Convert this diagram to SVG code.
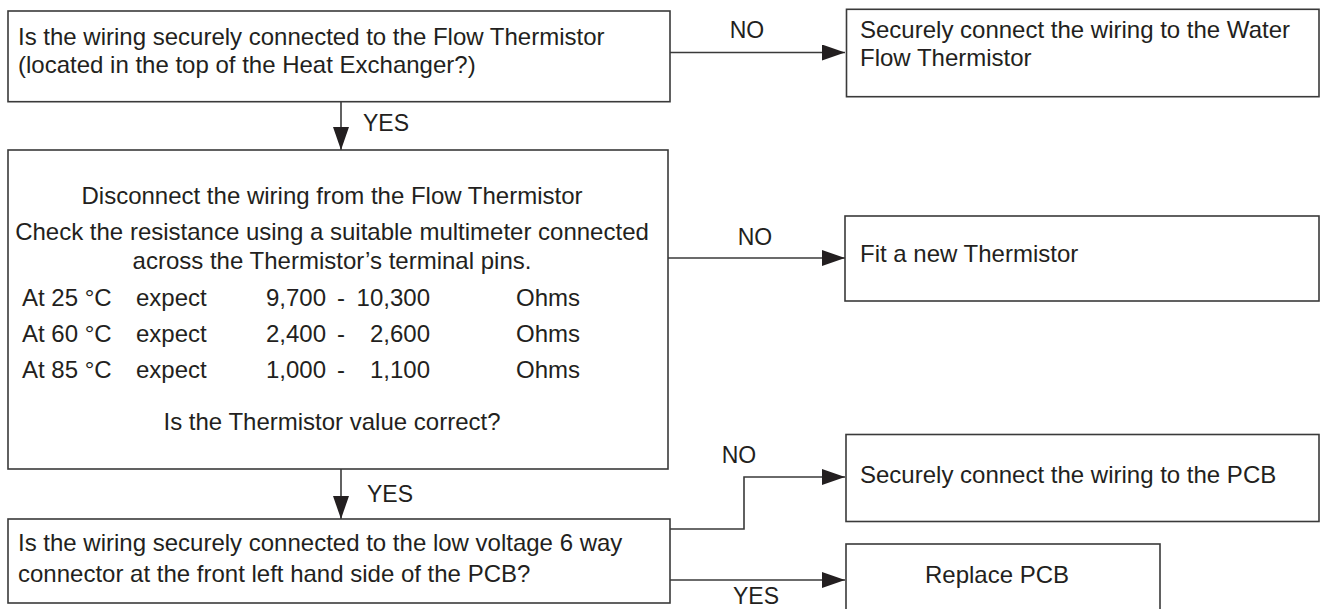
<svg xmlns="http://www.w3.org/2000/svg" width="1320" height="609" viewBox="0 0 1320 609">
<style>
.box{fill:#fff;stroke:#3a3a3a;stroke-width:1.6}
.t{font-family:"Liberation Sans",Arial,sans-serif;font-size:24px;fill:#231f20}
.lbl{font-family:"Liberation Sans",Arial,sans-serif;font-size:23px;fill:#231f20}
.c{fill:none;stroke:#3a3a3a;stroke-width:1.6}
.m{text-anchor:middle}
</style>
<defs>
<marker id="ah" markerUnits="userSpaceOnUse" markerWidth="24" markerHeight="16" refX="23" refY="8" orient="auto">
<path d="M0,0 L23,8 L0,16 Z" fill="#231f20"/>
</marker>
</defs>
<rect width="1320" height="609" fill="#fff"/>
<g id="connectors">
<line class="c" x1="670" y1="52.5" x2="845" y2="52.5" marker-end="url(#ah)"/>
<line class="c" x1="341" y1="101.7" x2="341" y2="150" marker-end="url(#ah)"/>
<line class="c" x1="668" y1="258" x2="845" y2="258" marker-end="url(#ah)"/>
<line class="c" x1="341" y1="469" x2="341" y2="519" marker-end="url(#ah)"/>
<path class="c" d="M670 529 H744 V477 H845" marker-end="url(#ah)"/>
<line class="c" x1="670" y1="580" x2="845" y2="580" marker-end="url(#ah)"/>
<text class="lbl m" x="747" y="38">NO</text>
<text class="lbl" x="363" y="131">YES</text>
<text class="lbl m" x="755" y="245">NO</text>
<text class="lbl" x="367" y="502">YES</text>
<text class="lbl m" x="739" y="463">NO</text>
<text class="lbl m" x="756" y="604">YES</text>
</g>
<g id="q1">
<rect class="box" x="8" y="11" width="662" height="90.7"/>
<text class="t" x="18" y="45">Is the wiring securely connected to the Flow Thermistor</text>
<text class="t" x="18" y="73">(located in the top of the Heat Exchanger?)</text>
</g>
<g id="a1">
<rect class="box" x="846.5" y="9.3" width="472.5" height="87.4"/>
<text class="t" x="860" y="38">Securely connect the wiring to the Water</text>
<text class="t" x="860" y="66">Flow Thermistor</text>
</g>
<g id="q2">
<rect class="box" x="8" y="150" width="660" height="319"/>
<text class="t m" x="332" y="204">Disconnect the wiring from the Flow Thermistor</text>
<text class="t m" x="332" y="240">Check the resistance using a suitable multimeter connected</text>
<text class="t m" x="332" y="269">across the Thermistor’s terminal pins.</text>
<text class="t" x="22" y="306">At 25 °C</text>
<text class="t" x="136" y="306">expect</text>
<text class="t" x="266" y="306">9,700</text>
<text class="t m" x="341" y="306">-</text>
<text class="t" x="430" y="306" text-anchor="end">10,300</text>
<text class="t" x="516" y="306">Ohms</text>
<text class="t" x="22" y="342">At 60 °C</text>
<text class="t" x="136" y="342">expect</text>
<text class="t" x="266" y="342">2,400</text>
<text class="t m" x="341" y="342">-</text>
<text class="t" x="430" y="342" text-anchor="end">2,600</text>
<text class="t" x="516" y="342">Ohms</text>
<text class="t" x="22" y="378">At 85 °C</text>
<text class="t" x="136" y="378">expect</text>
<text class="t" x="266" y="378">1,000</text>
<text class="t m" x="341" y="378">-</text>
<text class="t" x="430" y="378" text-anchor="end">1,100</text>
<text class="t" x="516" y="378">Ohms</text>
<text class="t m" x="332" y="430">Is the Thermistor value correct?</text>
</g>
<g id="a2">
<rect class="box" x="845" y="216" width="474" height="85"/>
<text class="t" x="860" y="262">Fit a new Thermistor</text>
</g>
<g id="q3">
<rect class="box" x="8" y="519" width="662" height="84"/>
<text class="t" x="18" y="551">Is the wiring securely connected to the low voltage 6 way</text>
<text class="t" x="18" y="582">connector at the front left hand side of the PCB?</text>
</g>
<g id="a3">
<rect class="box" x="846" y="434.5" width="473" height="87"/>
<text class="t" x="860" y="483">Securely connect the wiring to the PCB</text>
</g>
<g id="a4">
<rect class="box" x="846" y="544" width="314" height="90"/>
<text class="t m" x="997" y="583">Replace PCB</text>
</g>
</svg>
